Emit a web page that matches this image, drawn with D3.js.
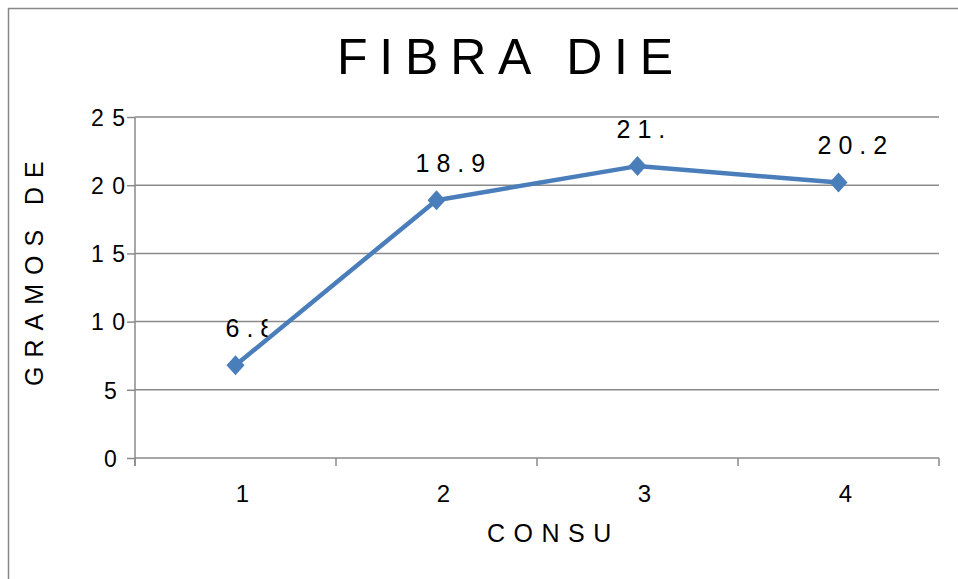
<!DOCTYPE html>
<html>
<head>
<meta charset="utf-8">
<script src="https://cdn.jsdelivr.net/npm/d3@7"></script>
<style>
  body { margin: 0; background: #fff; }
  svg { display: block; font-family: "Liberation Sans", Arial, sans-serif; }
</style>
</head>
<body>
<div id="chart"></div>
<script>
const categories = ["1", "2", "3", "4"]
const values = [6.8, 18.9, 21.4, 20.2]
const yTicks = [0, 5, 10, 15, 20, 25]
const title = "FIBRA DIE"
const yTitle = "GRAMOS DE"
const xTitle = "CONSU"

// how far past the point each label is visible (labels are cut off in the original)
const labelClip = [32, 50, 33, 60]

const width = 958, height = 579
const plot = { left: 135, right: 939, top: 117, bottom: 458 }

const svg = d3.select("#chart").append("svg")
    .attr("width", width)
    .attr("height", height)

// outer chart border, runs off the right and bottom of the picture
svg.append("rect")
    .attr("x", 8.5).attr("y", 8.5)
    .attr("width", 1000).attr("height", 1000)
    .attr("fill", "none")
    .attr("stroke", "#878787")
    .attr("stroke-width", 1.5)

const x = d3.scaleBand().domain(categories).range([plot.left, plot.right])
const y = d3.scaleLinear().domain([0, 25]).range([plot.bottom, plot.top])

// gridlines
svg.append("g")
    .selectAll("line")
    .data(yTicks.filter(function (d) { return d > 0 }))
    .enter().append("line")
    .attr("x1", plot.left).attr("x2", plot.right)
    .attr("y1", function (d) { return y(d) }).attr("y2", function (d) { return y(d) })
    .attr("stroke", "#8a8a8a")
    .attr("stroke-width", 1.5)

// y axis
const yAxis = svg.append("g")
    .attr("transform", "translate(" + plot.left + ",0)")
    .call(d3.axisLeft(y).tickValues(yTicks).tickSize(8).tickSizeOuter(0))
    .attr("font-family", null)
    .attr("font-size", null)
yAxis.select(".domain").remove()
yAxis.selectAll(".tick line").attr("stroke", "#8a8a8a").attr("stroke-width", 1.5)
yAxis.selectAll(".tick text")
    .attr("text-anchor", "start")
    .attr("x", function (d) { return 117 - 13 * String(d).length - plot.left })
    .attr("dy", "0.36em")
    .style("font-size", "23px")
    .style("letter-spacing", "8.5px")
    .attr("fill", "#000")

svg.append("line")
    .attr("x1", plot.left).attr("x2", plot.left)
    .attr("y1", plot.top).attr("y2", plot.bottom + 8)
    .attr("stroke", "#8a8a8a").attr("stroke-width", 1.5)

// x axis with ticks at the category edges
const xEdges = categories.map(function (c) { return x(c) }).concat([plot.right])
svg.append("line")
    .attr("x1", plot.left).attr("x2", plot.right)
    .attr("y1", plot.bottom).attr("y2", plot.bottom)
    .attr("stroke", "#8a8a8a").attr("stroke-width", 1.5)
svg.append("g")
    .selectAll("line")
    .data(xEdges)
    .enter().append("line")
    .attr("x1", function (d) { return d }).attr("x2", function (d) { return d })
    .attr("y1", plot.bottom).attr("y2", plot.bottom + 8)
    .attr("stroke", "#8a8a8a").attr("stroke-width", 1.5)

svg.append("g")
    .selectAll("text")
    .data(categories)
    .enter().append("text")
    .attr("x", function (d) { return x(d) + x.bandwidth() / 2 + 7 })
    .attr("y", 502)
    .attr("text-anchor", "middle")
    .style("font-size", "24px")
    .text(function (d) { return d })

// axis titles
svg.append("text")
    .attr("x", 487).attr("y", 542)
    .style("font-size", "25px")
    .style("letter-spacing", "8.5px")
    .text(xTitle)

svg.append("text")
    .attr("transform", "translate(43,386) rotate(-90)")
    .style("font-size", "25px")
    .style("letter-spacing", "9px")
    .text(yTitle)

// chart title
svg.append("text")
    .attr("x", 337).attr("y", 74)
    .style("font-size", "50px")
    .style("letter-spacing", "11.8px")
    .text(title)

// series
const cx = function (i) { return x(categories[i]) + x.bandwidth() / 2 }
const line = d3.line()
    .x(function (d, i) { return cx(i) })
    .y(function (d) { return y(d) })

svg.append("path")
    .datum(values)
    .attr("d", line)
    .attr("fill", "none")
    .attr("stroke", "#4a7ebb")
    .attr("stroke-width", 4.5)
    .attr("stroke-linejoin", "round")

svg.append("g")
    .selectAll("path")
    .data(values)
    .enter().append("path")
    .attr("transform", function (d, i) { return "translate(" + cx(i) + "," + y(d) + ")" })
    .attr("d", "M0,-10L9,0L0,10L-9,0Z")
    .attr("fill", "#4a7ebb")

// data labels, clipped on the right like the original
const defs = svg.append("defs")
values.forEach(function (d, i) {
    defs.append("clipPath").attr("id", "lab" + i)
        .append("rect")
        .attr("x", cx(i) - 40).attr("y", y(d) - 60)
        .attr("width", 40 + labelClip[i]).attr("height", 60)
})

svg.append("g")
    .selectAll("text")
    .data(values)
    .enter().append("text")
    .attr("clip-path", function (d, i) { return "url(#lab" + i + ")" })
    .attr("x", function (d, i) { return cx(i) - (String(d).length * 11 - 23) })
    .attr("y", function (d) { return y(d) - 28 })
    .style("font-size", "25px")
    .style("letter-spacing", "7px")
    .text(function (d) { return String(d) })
</script>
</body>
</html>
